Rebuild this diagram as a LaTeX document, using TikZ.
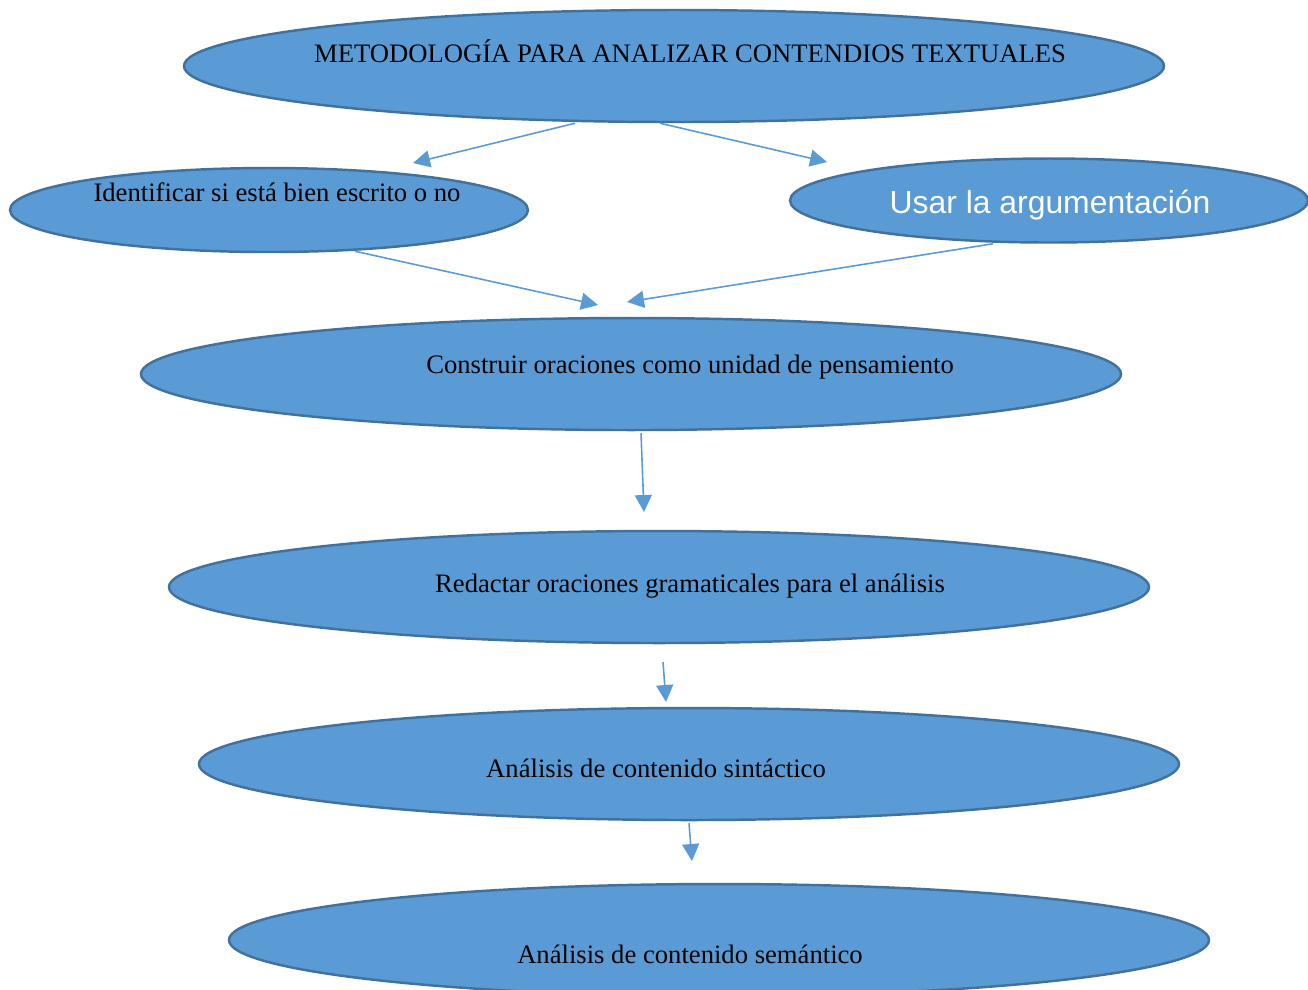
\documentclass[tikz,border=0pt]{standalone}
\usepackage{fontspec}
\setmainfont{Liberation Serif}
\setsansfont{Liberation Sans}
\usepackage{tikz}
\usetikzlibrary{shapes.geometric}
\usetikzlibrary{arrows.meta}
\definecolor{elfill}{HTML}{5B9BD5}
\definecolor{elline}{HTML}{41719C}

\begin{document}
\begin{tikzpicture}[
  big/.style={ellipse,draw=elline,fill=elfill,line width=0.7pt,inner sep=0pt,minimum width=9.8cm,minimum height=1.12cm},
  small/.style={ellipse,draw=elline,fill=elfill,line width=0.7pt,inner sep=0pt,minimum width=5.18cm,minimum height=0.84cm},
  txt/.style={anchor=base,inner sep=0pt,font=\fontsize{7.58pt}{9pt}\selectfont},
  arr/.style={draw=elfill,line width=0.45pt,-{Triangle[length=1.7mm,width=1.7mm]}}]
 \useasboundingbox (0,0) rectangle (13.08,-9.89);

 \node at (6.74,-0.66) [big] (1) {};
 \node at (2.69,-2.10) [small] (2) {};
 \node at (10.49,-2.005) [small] (3) {};
 \node at (6.31,-3.74) [big] (4) {};
 \node at (6.59,-5.87) [big] (5) {};
 \node at (6.89,-7.64) [big] (6) {};
 \node at (7.19,-9.40) [big] (7) {};

 \node at (6.90,-0.62) [txt] (t1) {METODOLOGÍA PARA ANALIZAR CONTENDIOS TEXTUALES};
 \node at (2.77,-2.01) [txt] (t2) {Identificar si está bien escrito o no};
 \node at (10.50,-2.13) [txt,text=white,font=\fontsize{9.07pt}{11pt}\sffamily] (t3) {Usar la argumentación};
 \node at (6.90,-3.73) [txt] (t4) {Construir oraciones como unidad de pensamiento};
 \node at (6.90,-5.92) [txt] (t5) {Redactar oraciones gramaticales para el análisis};
 \node at (6.56,-7.77) [txt] (t6) {Análisis de contenido sintáctico};
 \node at (6.90,-9.63) [txt] (t7) {Análisis de contenido semántico};

 \coordinate (a1) at (4.13,-1.63);
 \coordinate (a2) at (8.27,-1.62);
 \coordinate (a3) at (5.98,-3.05);
 \coordinate (a4) at (6.27,-3.02);
 \coordinate (a5) at (6.44,-5.12);
 \coordinate (b6) at (6.63,-6.62);
 \coordinate (a6) at (6.66,-7.02);
 \coordinate (a7) at (6.92,-8.61);

 \draw[arr] ([xshift=-0.99cm]1.south)--(a1);
 \draw[arr] ([xshift=-0.14cm]1.south)--(a2);
 \draw[arr] ([xshift=0.86cm,yshift=0.02cm]2.south)--(a3);
 \draw[arr] ([xshift=-0.56cm]3.south)--(a4);
 \draw[arr] ([xshift=0.10cm,yshift=-0.02cm]4.south)--(a5);
 \draw[arr] (b6)--(a6);
 \draw[arr] ([yshift=-0.02cm]6.south)--(a7);
\end{tikzpicture}
\end{document}
